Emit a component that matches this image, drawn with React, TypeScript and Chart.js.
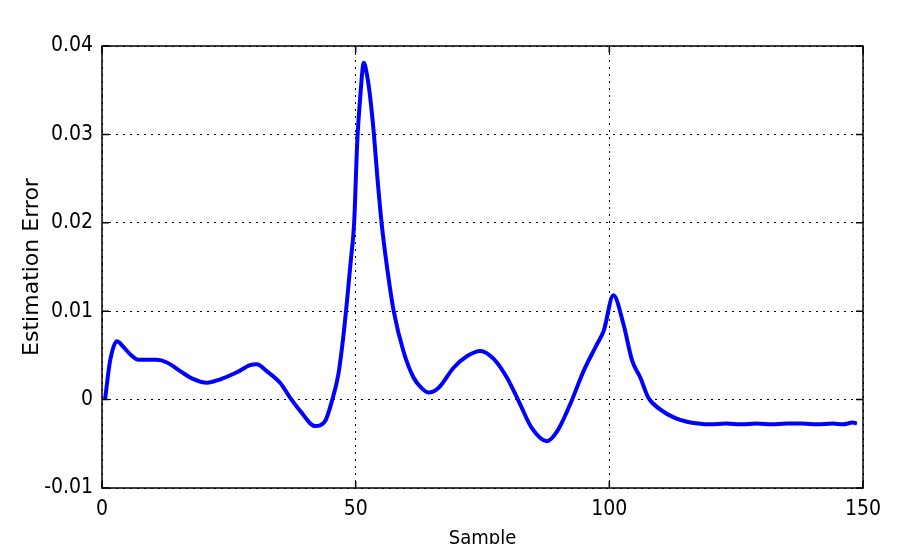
import React, { useEffect, useRef } from "react";
import { Chart, registerables } from "chart.js";

Chart.register(...registerables);

const sampleX = [0.6, 1.6, 2.95, 4.3, 5.6, 7.2, 9, 10.8, 12.8, 15.5, 17.7, 20.7, 23.3, 26.6, 29.2, 30.5, 32.5, 35.1, 37.1, 39.1, 42.0, 44, 45.3, 46.6, 47.5, 48.3, 49.0, 49.7, 50.3, 50.9, 51.6, 52.3, 52.9, 53.6, 54.3, 55.2, 56.3, 57.5, 59.4, 61.4, 63, 64.4, 66.3, 69.3, 71.9, 74.6, 77.2, 79.8, 82.4, 84.7, 87.7, 89.7, 92.3, 94.9, 97.6, 98.9, 100.8, 102.8, 104.5, 106.1, 107.7, 110, 113, 115.3, 117.5, 119.9, 123, 126, 129, 132, 135, 138, 141, 144, 146, 148, 148.8];

const errorY = [0, 0.0044, 0.0066, 0.0059, 0.0051, 0.0045, 0.0045, 0.0045, 0.0042, 0.0032, 0.0024, 0.0019, 0.0023, 0.0031, 0.0039, 0.0040, 0.0032, 0.0019, 0.0002, -0.0013, -0.0030, -0.0024, -0.0002, 0.0029, 0.0068, 0.0112, 0.0155, 0.0200, 0.0290, 0.0342, 0.0381, 0.0365, 0.0340, 0.0300, 0.0250, 0.0195, 0.0145, 0.0100, 0.0055, 0.0025, 0.0013, 0.0008, 0.0013, 0.0036, 0.0049, 0.0055, 0.0046, 0.0025, -0.0005, -0.0032, -0.0047, -0.0036, -0.0005, 0.0032, 0.0063, 0.0078, 0.0118, 0.0085, 0.0044, 0.0025, 0.0002, -0.0011, -0.0021, -0.0025, -0.0027, -0.0028, -0.0027, -0.0028, -0.0027, -0.0028, -0.0027, -0.0027, -0.0028, -0.0027, -0.0028, -0.0026, -0.0027];

const xTickLabels = ["0", "50", "100", "150"];
const yTickLabels = ["-0.01", "0", "0.01", "0.02", "0.03", "0.04"];
const xTitle = "Sample";
const yTitle = "Estimation Error";

const NARROW = '"DejaVu Sans Condensed", "Liberation Sans Narrow", "Liberation Sans", sans-serif';

const boxPlugin = {
  id: "matlabBox",
  afterDraw(chart: any) {
    const { ctx, chartArea } = chart;
    const { left, right, top, bottom } = chartArea;
    ctx.save();
    ctx.strokeStyle = "#000";
    ctx.lineWidth = 1.5;
    ctx.setLineDash([]);
    ctx.strokeRect(left, top, right - left, bottom - top);
    const tl = 7;
    const xs = chart.scales.x;
    const ys = chart.scales.y;
    ctx.beginPath();
    xs.ticks.forEach((t: any) => {
      const px = xs.getPixelForValue(t.value);
      ctx.moveTo(px, bottom);
      ctx.lineTo(px, bottom - tl);
      ctx.moveTo(px, top);
      ctx.lineTo(px, top + tl);
    });
    ys.ticks.forEach((t: any) => {
      const py = ys.getPixelForValue(t.value);
      ctx.moveTo(left, py);
      ctx.lineTo(left + tl, py);
      ctx.moveTo(right, py);
      ctx.lineTo(right - tl, py);
    });
    ctx.stroke();
    ctx.restore();
  },
};

export default function App() {
  const ref = useRef<HTMLCanvasElement | null>(null);
  useEffect(() => {
    if (!ref.current) return;
    const points = sampleX.map((x, i) => ({ x, y: errorY[i] }));
    const chart = new Chart(ref.current, {
      type: "line",
      data: {
        datasets: [
          {
            data: points,
            borderColor: "#0000ff",
            borderWidth: 4,
            pointRadius: 0,
            fill: false,
            cubicInterpolationMode: "monotone",
          },
        ],
      },
      options: {
        animation: false,
        responsive: false,
        maintainAspectRatio: false,
        parsing: false as any,
        layout: { padding: { top: 46, right: 38, left: 0, bottom: 0 } },
        plugins: { legend: { display: false }, tooltip: { enabled: false } },
        scales: {
          x: {
            type: "linear",
            min: 0,
            max: 150,
            afterFit: (s: any) => {
              s.height = 72;
            },
            ticks: {
              stepSize: 50,
              padding: 9,
              color: "#000",
              font: { family: NARROW, size: 21 },
              callback: (_v: any, i: number) => xTickLabels[i],
              maxRotation: 0,
            },
            grid: { color: "#000", lineWidth: 1, drawTicks: false },
            border: { display: false, dash: [2, 5] },
            title: {
              display: true,
              text: xTitle,
              color: "#000",
              font: { family: NARROW, size: 20 },
              padding: { top: 0, bottom: 9 },
            },
          },
          y: {
            type: "linear",
            min: -0.01,
            max: 0.04,
            afterFit: (s: any) => {
              s.width = 102;
            },
            ticks: {
              stepSize: 0.01,
              padding: 9,
              color: "#000",
              font: { family: NARROW, size: 21 },
              callback: (_v: any, i: number) => yTickLabels[i],
            },
            grid: { color: "#000", lineWidth: 1, drawTicks: false },
            border: { display: false, dash: [2, 5] },
            title: {
              display: true,
              text: yTitle,
              color: "#000",
              font: { family: '"DejaVu Sans", sans-serif', size: 22 },
              padding: { top: 19, bottom: 0 },
            },
          },
        },
      },
      plugins: [boxPlugin],
    });
    return () => chart.destroy();
  }, []);
  return (
    <div style={{ position: "fixed", left: 0, top: 0, width: 901, height: 544, overflow: "hidden", background: "#fff" }}>
      <canvas ref={ref} width={901} height={560} style={{ width: 901, height: 560, display: "block" }} />
    </div>
  );
}
